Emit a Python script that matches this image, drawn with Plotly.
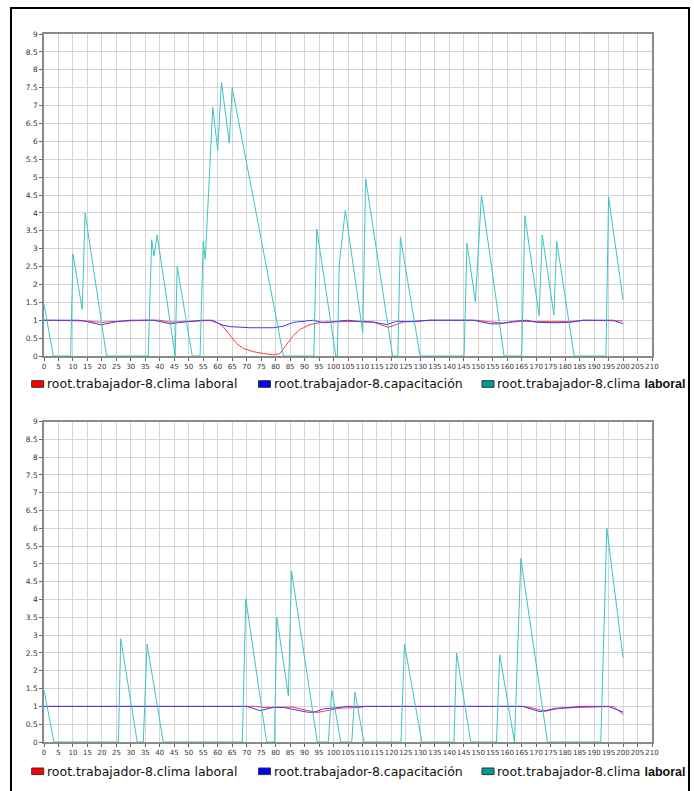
import plotly.graph_objects as go

W, H = 694, 791

# ---------------- data: top chart ----------------
top_cyan_t = [0, 3.2, 9.2, 10, 13.2, 14.2, 21.6, 36, 37.2, 38, 39.1, 45.3, 46, 51.2,
              53.9, 55, 55.7, 58.3, 60, 61.3, 64, 65, 82.7, 93.2, 94.2, 100.8, 101.3, 102, 104.1,
              110.1, 111.1, 120.4, 122.2, 123.1, 129.9, 145.1, 146.1, 149, 151.1, 158.9,
              165, 166.1, 171, 172.1, 176.1, 177.1, 183.1, 194.1, 195, 200]
top_cyan_v = [1.45, 0, 0, 2.85, 1.3, 4.0, 0, 0, 3.25, 2.8, 3.38, 0, 2.5, 0,
              0, 3.2, 2.7, 6.95, 5.75, 7.65, 5.95, 7.5, 0, 0, 3.55, 0, 0, 2.6, 4.07,
              0.65, 4.95, 0, 0, 3.33, 0, 0, 3.15, 1.52, 4.5, 0,
              0, 3.92, 1.13, 3.38, 1.15, 3.2, 0, 0, 4.45, 1.57]

top_red_t = [0, 12, 15, 17, 20, 23, 25, 30, 35, 40, 43, 46, 50, 55, 58.5, 61.9, 64.3, 66.5,
             68.9, 72.3, 75.8, 79.2, 81.5, 83.8, 86.1, 88.4, 91.9, 96.5, 101.1, 104.5, 109.2,
             113.7, 118.9, 124.1, 133.3, 149.5, 153, 158.7, 164.5, 170.2, 181.7, 186.3, 200]
top_red_v = [1, 1, 0.98, 0.96, 0.94, 0.96, 0.97, 0.99, 1, 1, 0.95, 0.95, 0.97, 1, 1.0, 0.82, 0.59, 0.35,
             0.21, 0.12, 0.07, 0.03, 0.07, 0.31, 0.57, 0.74, 0.88, 0.95, 0.96, 0.98, 0.97,
             0.95, 0.8, 0.95, 1, 1, 0.96, 0.92, 0.97, 0.96, 0.96, 1, 0.98]

top_blue_t = [0, 12, 15, 19.7, 25, 30, 38, 43.5, 47, 50, 55, 57.3, 61.9, 64.3, 71.2, 79.2, 82.6,
              86.1, 89.6, 93, 96.5, 98.8, 102.2, 105, 110.3, 113.7, 118.4, 121.8, 127.5, 133.3,
              148.3, 154.1, 157.5, 162.1, 166.7, 170.2, 177.1, 181.7, 186.3, 196.6, 200]
top_blue_v = [1, 1, 0.96, 0.87, 0.96, 1, 1, 0.9, 0.94, 0.97, 1, 1, 0.86, 0.82, 0.79, 0.79, 0.83,
              0.94, 0.98, 1, 0.93, 0.94, 0.98, 1, 0.95, 0.95, 0.88, 0.97, 0.96, 1,
              1, 0.9, 0.9, 0.97, 1, 0.94, 0.93, 0.94, 1, 1, 0.9]

# ---------------- data: bottom chart ----------------
bot_cyan_t = [0, 3.45, 25.7, 26.5, 32.2, 34.3, 35.6, 41.2, 68.5, 69.7, 76.9, 79.6, 80.4, 84.4, 85.5,
              94.4, 98.2, 99.4, 102.5, 106.3, 107.4, 110.5, 123.3, 124.5, 130.5, 141.6, 142.5,
              147.4, 156.3, 157.4, 162.5, 164.7, 173.9, 192.3, 194.4, 200]
bot_cyan_v = [1.45, 0, 0, 2.9, 0, 0, 2.75, 0, 0, 4.02, 0, 0, 3.5, 1.3, 4.8,
              0, 0, 1.45, 0, 0, 1.4, 0, 0, 2.75, 0, 0, 2.5,
              0, 0, 2.45, 0, 5.15, 0, 0, 6.0, 2.37]

bot_red_t = [0, 28, 33, 37, 42, 70, 73, 76, 80, 86, 87.3, 92, 94.4, 99, 102.3, 109.2, 111,
             165.3, 167.9, 173.1, 177, 181.6, 185, 194.9, 196.6, 200]
bot_red_v = [1, 1, 1, 1, 1, 1, 1, 0.97, 0.98, 0.98, 0.95, 0.88, 0.83, 0.9, 0.95, 0.97, 1,
             1, 0.97, 0.86, 0.93, 0.96, 0.97, 1, 1, 0.78]

bot_blue_t = [0, 27, 28, 33, 34, 37, 38, 42, 43, 70, 74.6, 79.2, 82.7, 86.2, 90.8, 93.1, 96.5,
              102.3, 104, 165.3, 171.3, 173, 177, 181.6, 185, 194.9, 200]
bot_blue_v = [1, 1, 0.98, 0.98, 1, 1, 0.98, 0.98, 1, 1, 0.88, 0.97, 0.97, 0.92, 0.84, 0.83, 0.93,
              0.97, 1, 1, 0.85, 0.88, 0.95, 0.97, 1, 1, 0.84]

legend_labels = ["root.trabajador-8.clima laboral",
                 "root.trabajador-8.capacitación",
                 "root.trabajador-8.clima <span style=\"font-family:'Liberation Sans',Arial;font-weight:bold\">laboral</span>"]
legend_colors = ["#ff0000", "#0000ff", "#009999"]

RED, BLUE, CYAN = "#ff3b3b", "#3b3bff", "#3cc4c4"

fig = go.Figure()
for xa, ya, series in [
    ("x", "y", [(top_red_t, top_red_v, RED), (top_blue_t, top_blue_v, BLUE), (top_cyan_t, top_cyan_v, CYAN)]),
    ("x2", "y2", [(bot_red_t, bot_red_v, RED), (bot_blue_t, bot_blue_v, BLUE), (bot_cyan_t, bot_cyan_v, CYAN)]),
]:
    for t, v, c in series:
        fig.add_trace(go.Scatter(x=t, y=v, mode="lines", line=dict(color=c, width=1),
                                 xaxis=xa, yaxis=ya, showlegend=False, hoverinfo="skip"))

def px_x(p):
    return p / W

def px_y(p):
    return 1 - p / H

xdom = [px_x(44), px_x(652)]
top_dom = [px_y(356), px_y(34)]
bot_dom = [px_y(742), px_y(421.5)]

axis_common = dict(showgrid=True, gridcolor="#d4d4d4", gridwidth=1, showline=True,
                   linecolor="#8a8a8a", linewidth=1.5, mirror=True, ticks="outside",
                   ticklen=3, tickcolor="#666", zeroline=False, automargin=False)

xax = dict(axis_common, range=[0, 210], dtick=5, tick0=0, domain=xdom, tickangle=0,
           tickfont=dict(family="DejaVu Sans", size=7, color="#333"))
yax = dict(axis_common, range=[0, 9], dtick=0.5, tick0=0,
           tickfont=dict(family="DejaVu Sans", size=7.5, color="#333"))

shapes = []
annotations = []
# outer frame
shapes.append(dict(type="rect", xref="paper", yref="paper", x0=px_x(11), x1=px_x(689),
                   y0=-0.02, y1=px_y(8), line=dict(color="black", width=2)))

legend_x = [(31.7, 45), (258.5, 271.5), (482, 495)]
for yc in [384, 771.3]:
    for (sx, tx), lab, col in zip(legend_x, legend_labels, legend_colors):
        shapes.append(dict(type="rect", xref="paper", yref="paper",
                           x0=px_x(sx), x1=px_x(sx + 12), y0=px_y(yc + 3.3), y1=px_y(yc - 3.3),
                           fillcolor=col, line=dict(color="#333", width=1)))
        annotations.append(dict(xref="paper", yref="paper", x=px_x(tx), y=px_y(yc),
                                xanchor="left", yanchor="middle", showarrow=False, text=lab,
                                font=dict(family="DejaVu Sans", size=12.5, color="#111")))

fig.update_layout(
    width=W, height=H, autosize=False,
    margin=dict(l=0, r=0, t=0, b=0, pad=0),
    paper_bgcolor="white", plot_bgcolor="white",
    showlegend=False,
    xaxis=dict(xax, anchor="y"),
    yaxis=dict(yax, domain=top_dom, anchor="x"),
    xaxis2=dict(xax, anchor="y2"),
    yaxis2=dict(yax, domain=bot_dom, anchor="x2"),
    shapes=shapes, annotations=annotations,
)

fig.write_html("out.html")
